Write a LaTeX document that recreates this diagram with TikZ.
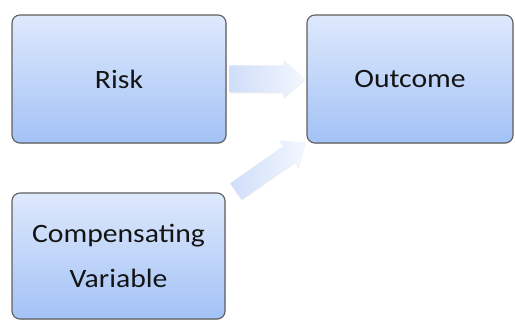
\documentclass[tikz,border=0pt]{standalone}
\usepackage{fontspec}
\setmainfont{Carlito}[FakeStretch=1.12]
\usetikzlibrary{shadows,calc}
\definecolor{boxtop}{RGB}{222,233,252}
\definecolor{boxbot}{RGB}{163,194,246}
\definecolor{boxline}{RGB}{95,95,95}
\definecolor{arrA}{RGB}{208,222,249}
\definecolor{arrB}{RGB}{243,247,254}
\tikzset{
  boxnode/.style={draw=boxline, line width=1.1pt, rounded corners=8pt,
    top color=boxtop, bottom color=boxbot, text=black!92,
    font=\fontsize{26.5}{45}\selectfont, align=center, inner sep=0pt,
    drop shadow={shadow xshift=0.6pt, shadow yshift=-0.8pt, opacity=0.3}},
  fatarrow/.style={left color=arrA, right color=arrB,
    drop shadow={shadow xshift=0pt, shadow yshift=-1pt, opacity=0.15}}
}
% #1 start coordinate, #2 angle, #3 length, #4 body half width, #5 head half width, #6 head length
\newcommand\myfatarrow[6]{%
  \begin{scope}[shift={(#1)}, rotate=#2]
    \path[fatarrow] (0,-#4) -- ({#3-#6},-#4) -- ({#3-#6},-#5) -- (#3,0)
      -- ({#3-#6},#5) -- ({#3-#6},#4) -- (0,#4) -- cycle;
  \end{scope}}
\begin{document}
\begin{tikzpicture}[x=1pt,y=-1pt]
\useasboundingbox (0,0) rectangle (515,320);
\node[boxnode, minimum width=214pt, minimum height=128pt] (risk) at (119,79) {Risk};
\node[boxnode, minimum width=206pt, minimum height=128pt] (out) at (410,79) {Outcome};
\node[boxnode, minimum width=213pt, minimum height=126pt] (comp) at (118.5,256) {Compensating\\Variable};
\coordinate (a1s) at ($(risk.east)+(3,0)$);
\coordinate (a2s) at ($(comp.north east)+(10.5,-1)$);
\myfatarrow{a1s}{0}{76}{13.5}{19}{22}
\myfatarrow{a2s}{35.2}{85}{10}{16.5}{20}
\end{tikzpicture}
\end{document}
